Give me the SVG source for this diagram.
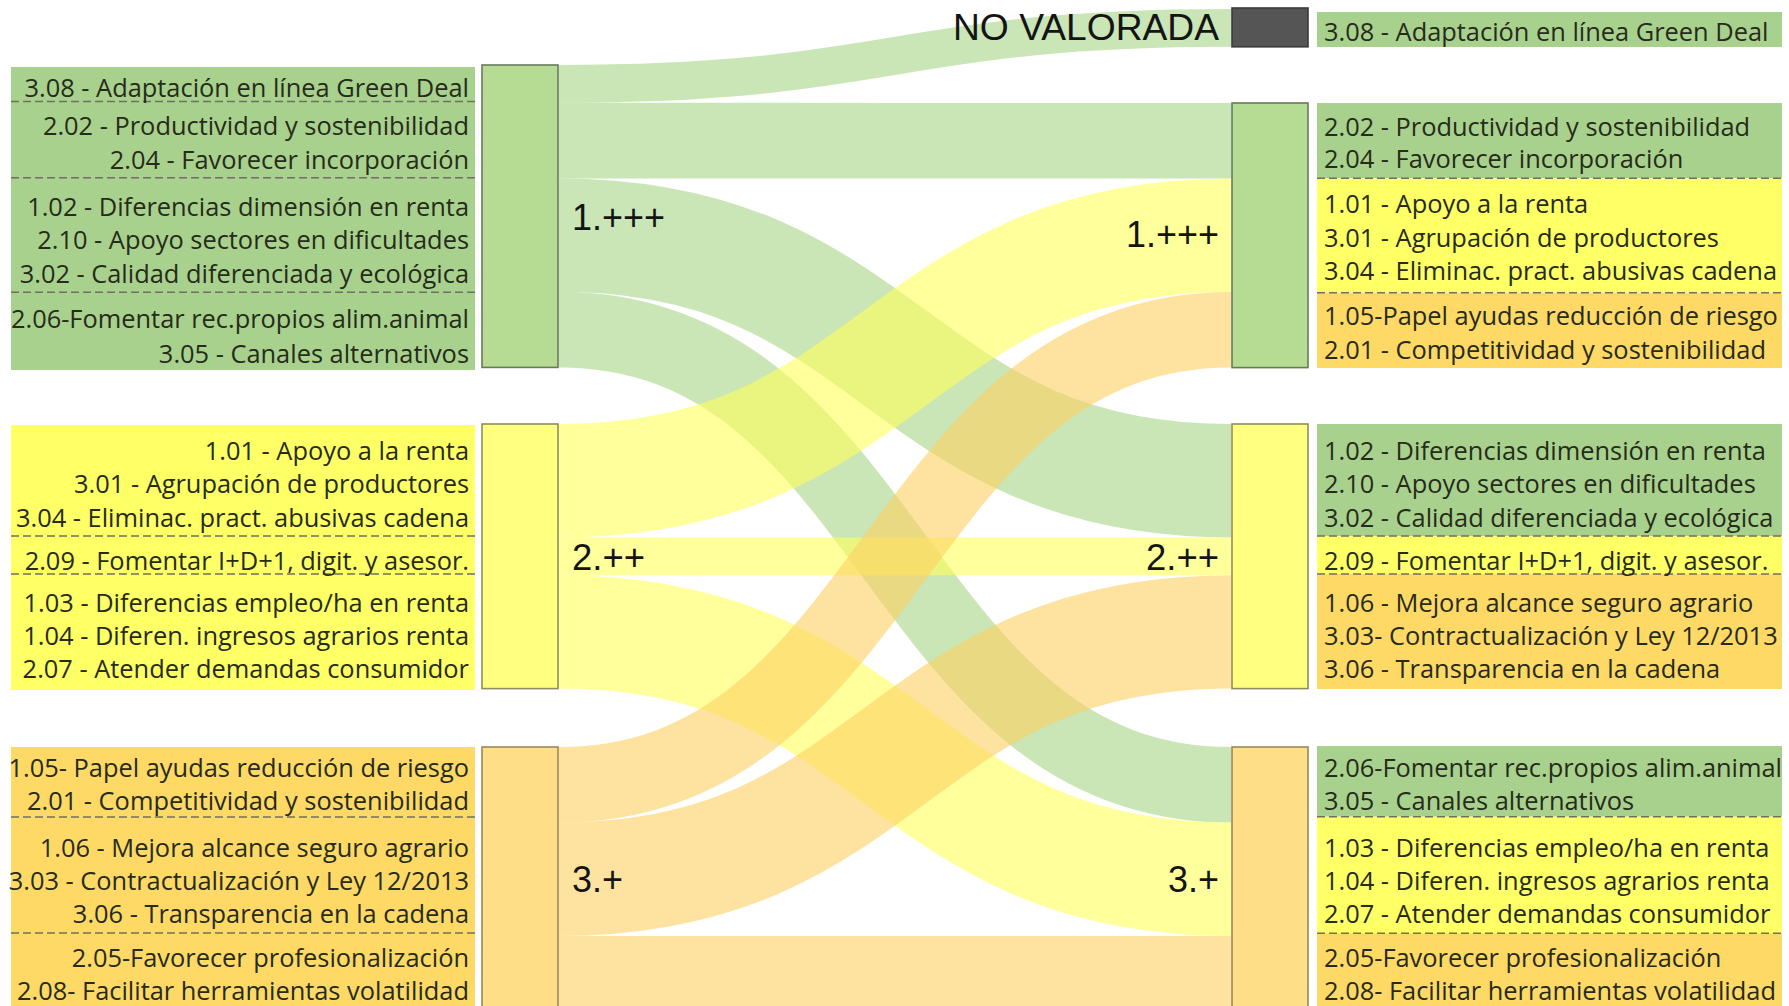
<svg xmlns="http://www.w3.org/2000/svg" width="1789" height="1006" viewBox="0 0 1789 1006">
<style>
.t{font-family:"Open Sans","Liberation Sans",sans-serif;font-size:25.4px;fill:#262b1a}
.e{text-anchor:end}
.nl{font-family:"Liberation Sans",Arial,sans-serif;font-size:36px;fill:#141414}
.pg{fill:#a9d18e}.py{fill:#ffff66}.po{fill:#ffd966}
.d{stroke:#6e7060;stroke-width:1.5;stroke-dasharray:8 4;fill:none}
.lk{fill:none;stroke-opacity:.6}
.lg{stroke:#a6d385}.ly{stroke:#ffff5a}.lo{stroke:#fdd060}
.ng{fill:#b5dc92;stroke:#687a5a;stroke-width:1.6}
.ny{fill:#ffff80;stroke:#8e8e5c;stroke-width:1.6}
.no{fill:#ffde88;stroke:#9a8858;stroke-width:1.6}
.nv{fill:#555555;stroke:#3a3a3a;stroke-width:1.6}
</style>
<rect x="0" y="0" width="1789" height="1006" fill="#ffffff"/>

<g id="connectors">
<path class="lk lg" stroke-width="37.8" d="M559,83.9 C895,83.9 895,27.9 1231,27.9"/>
<path class="lk lg" stroke-width="75.6" d="M559,140.6 C895,140.6 895,140.8 1231,140.8"/>
<path class="lk lg" stroke-width="113.4" d="M559,235.1 C895,235.1 895,480.7 1231,480.7"/>
<path class="lk lg" stroke-width="75.6" d="M559,329.6 C895,329.6 895,784.8 1231,784.8"/>
<path class="lk ly" stroke-width="113.4" d="M559,480.7 C895,480.7 895,235.3 1231,235.3"/>
<path class="lk ly" stroke-width="37.8" d="M559,556.3 L1231,556.3"/>
<path class="lk ly" stroke-width="113.4" d="M559,631.9 C895,631.9 895,879.3 1231,879.3"/>
<path class="lk lo" stroke-width="75.6" d="M559,784.8 C895,784.8 895,329.8 1231,329.8"/>
<path class="lk lo" stroke-width="113.4" d="M559,879.3 C895,879.3 895,631.9 1231,631.9"/>
<path class="lk lo" stroke-width="75.6" d="M559,973.8 L1231,973.8"/>
</g>

<g id="panel-left-1">
<rect class="pg" x="11" y="67" width="464" height="303"/>
<line class="d" x1="11" y1="101.5" x2="475" y2="101.5"/>
<line class="d" x1="11" y1="177.7" x2="475" y2="177.7"/>
<line class="d" x1="11" y1="292.3" x2="475" y2="292.3"/>
<text class="t e" x="469" y="97.3">3.08 - Adaptación en línea Green Deal</text>
<text class="t e" x="469" y="135">2.02 - Productividad y sostenibilidad</text>
<text class="t e" x="469" y="169.3">2.04 - Favorecer incorporación</text>
<text class="t e" x="469" y="215.7">1.02 - Diferencias dimensión en renta</text>
<text class="t e" x="469" y="249.3">2.10 - Apoyo sectores en dificultades</text>
<text class="t e" x="469" y="282.7">3.02 - Calidad diferenciada y ecológica</text>
<text class="t e" x="469" y="328.3">2.06-Fomentar rec.propios alim.animal</text>
<text class="t e" x="469" y="362.7">3.05 - Canales alternativos</text>
</g>

<g id="panel-left-2">
<rect class="py" x="11" y="425" width="464" height="265"/>
<line class="d" x1="11" y1="536" x2="475" y2="536"/>
<line class="d" x1="11" y1="574" x2="475" y2="574"/>
<text class="t e" x="469" y="460">1.01 - Apoyo a la renta</text>
<text class="t e" x="469" y="493.3">3.01 - Agrupación de productores</text>
<text class="t e" x="469" y="526.7">3.04 - Eliminac. pract. abusivas cadena</text>
<text class="t e" x="469" y="570">2.09 - Fomentar I+D+1, digit. y asesor.</text>
<text class="t e" x="469" y="611.7">1.03 - Diferencias empleo/ha en renta</text>
<text class="t e" x="469" y="645">1.04 - Diferen. ingresos agrarios renta</text>
<text class="t e" x="469" y="678.3">2.07 - Atender demandas consumidor</text>
</g>

<g id="panel-left-3">
<rect class="po" x="11" y="747" width="464" height="265"/>
<line class="d" x1="11" y1="817" x2="475" y2="817"/>
<line class="d" x1="11" y1="933" x2="475" y2="933"/>
<text class="t e" x="469" y="776.7">1.05- Papel ayudas reducción de riesgo</text>
<text class="t e" x="469" y="810">2.01 - Competitividad y sostenibilidad</text>
<text class="t e" x="469" y="856.7">1.06 - Mejora alcance seguro agrario</text>
<text class="t e" x="469" y="890">3.03 - Contractualización y Ley 12/2013</text>
<text class="t e" x="469" y="923.3">3.06 - Transparencia en la cadena</text>
<text class="t e" x="469" y="966.7">2.05-Favorecer profesionalización</text>
<text class="t e" x="469" y="1000">2.08- Facilitar herramientas volatilidad</text>
</g>

<g id="node-left-1">
<rect class="ng" x="482" y="65" width="76" height="302.4"/>
<text class="nl" x="572" y="230" textLength="93" lengthAdjust="spacingAndGlyphs">1.+++</text>
</g>
<g id="node-left-2">
<rect class="ny" x="482" y="424" width="76" height="264.6"/>
<text class="nl" x="572" y="570" textLength="73" lengthAdjust="spacingAndGlyphs">2.++</text>
</g>
<g id="node-left-3">
<rect class="no" x="482" y="747" width="76" height="264.6"/>
<text class="nl" x="572" y="892" textLength="51" lengthAdjust="spacingAndGlyphs">3.+</text>
</g>

<g id="node-no-valorada">
<rect class="nv" x="1232" y="8" width="76" height="38.8"/>
<text class="nl" x="1219" y="40" text-anchor="end" textLength="266" lengthAdjust="spacingAndGlyphs">NO VALORADA</text>
</g>
<g id="node-right-1">
<rect class="ng" x="1232" y="103" width="76" height="264.6"/>
<text class="nl" x="1219" y="247" text-anchor="end" textLength="93" lengthAdjust="spacingAndGlyphs">1.+++</text>
</g>
<g id="node-right-2">
<rect class="ny" x="1232" y="424" width="76" height="264.6"/>
<text class="nl" x="1219" y="570" text-anchor="end" textLength="73" lengthAdjust="spacingAndGlyphs">2.++</text>
</g>
<g id="node-right-3">
<rect class="no" x="1232" y="747" width="76" height="264.6"/>
<text class="nl" x="1219" y="892" text-anchor="end" textLength="51" lengthAdjust="spacingAndGlyphs">3.+</text>
</g>

<g id="panel-right-0">
<rect class="pg" x="1317" y="12" width="465" height="35"/>
<text class="t" x="1324" y="40.7">3.08 - Adaptación en línea Green Deal</text>
</g>

<g id="panel-right-1">
<rect class="pg" x="1317" y="103" width="465" height="75.3"/>
<rect class="py" x="1317" y="178.3" width="465" height="114.4"/>
<rect class="po" x="1317" y="292.7" width="465" height="75.3"/>
<line class="d" x1="1317" y1="178.3" x2="1782" y2="178.3"/>
<line class="d" x1="1317" y1="292.7" x2="1782" y2="292.7"/>
<text class="t" x="1324" y="136">2.02 - Productividad y sostenibilidad</text>
<text class="t" x="1324" y="168.3">2.04 - Favorecer incorporación</text>
<text class="t" x="1324" y="213.3">1.01 - Apoyo a la renta</text>
<text class="t" x="1324" y="247.3">3.01 - Agrupación de productores</text>
<text class="t" x="1324" y="280">3.04 - Eliminac. pract. abusivas cadena</text>
<text class="t" x="1324" y="325">1.05-Papel ayudas reducción de riesgo</text>
<text class="t" x="1324" y="359">2.01 - Competitividad y sostenibilidad</text>
</g>

<g id="panel-right-2">
<rect class="pg" x="1317" y="424" width="465" height="112"/>
<rect class="py" x="1317" y="536" width="465" height="38"/>
<rect class="po" x="1317" y="574" width="465" height="115"/>
<line class="d" x1="1317" y1="536" x2="1782" y2="536"/>
<line class="d" x1="1317" y1="574" x2="1782" y2="574"/>
<text class="t" x="1324" y="460">1.02 - Diferencias dimensión en renta</text>
<text class="t" x="1324" y="493.3">2.10 - Apoyo sectores en dificultades</text>
<text class="t" x="1324" y="526.7">3.02 - Calidad diferenciada y ecológica</text>
<text class="t" x="1324" y="570">2.09 - Fomentar I+D+1, digit. y asesor.</text>
<text class="t" x="1324" y="611.7">1.06 - Mejora alcance seguro agrario</text>
<text class="t" x="1324" y="645">3.03- Contractualización y Ley 12/2013</text>
<text class="t" x="1324" y="678.3">3.06 - Transparencia en la cadena</text>
</g>

<g id="panel-right-3">
<rect class="pg" x="1317" y="746" width="465" height="70.7"/>
<rect class="py" x="1317" y="816.7" width="465" height="116.6"/>
<rect class="po" x="1317" y="933.3" width="465" height="80"/>
<line class="d" x1="1317" y1="816.7" x2="1782" y2="816.7"/>
<line class="d" x1="1317" y1="933.3" x2="1782" y2="933.3"/>
<text class="t" x="1324" y="776.7">2.06-Fomentar rec.propios alim.animal</text>
<text class="t" x="1324" y="810">3.05 - Canales alternativos</text>
<text class="t" x="1324" y="856.7">1.03 - Diferencias empleo/ha en renta</text>
<text class="t" x="1324" y="890">1.04 - Diferen. ingresos agrarios renta</text>
<text class="t" x="1324" y="923.3">2.07 - Atender demandas consumidor</text>
<text class="t" x="1324" y="966.7">2.05-Favorecer profesionalización</text>
<text class="t" x="1324" y="1000">2.08- Facilitar herramientas volatilidad</text>
</g>
</svg>
